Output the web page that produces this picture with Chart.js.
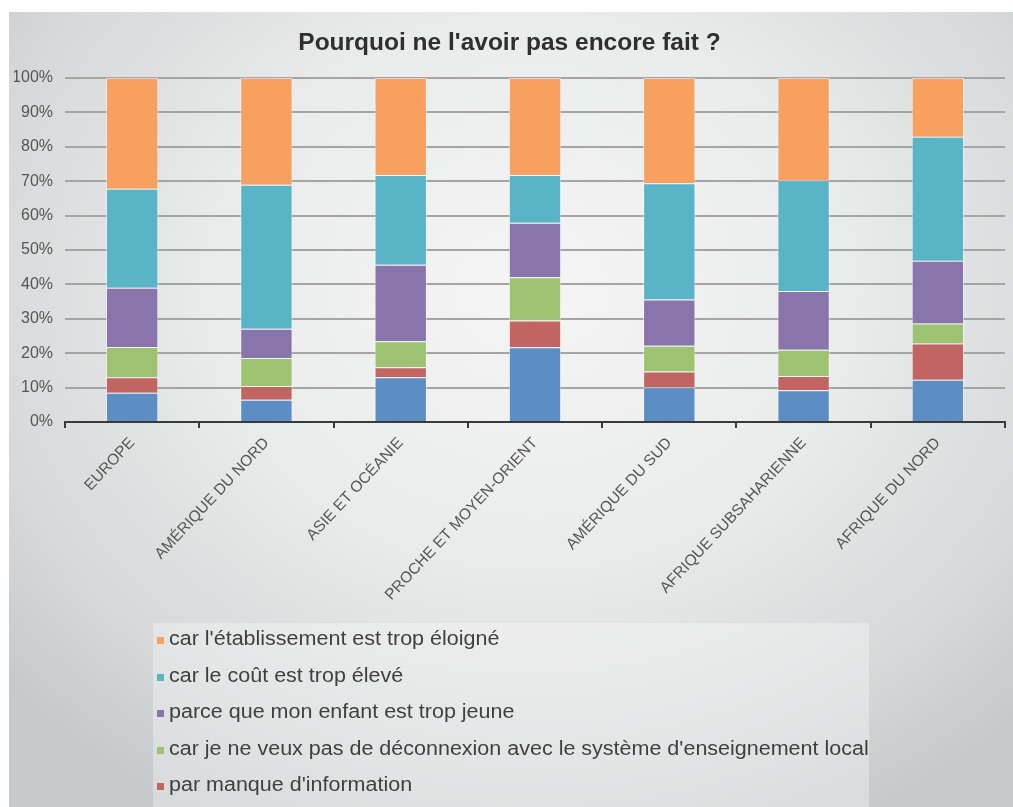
<!DOCTYPE html>
<html lang="fr">
<head>
<meta charset="utf-8">
<title>Pourquoi ne l'avoir pas encore fait ?</title>
<script src="https://cdn.jsdelivr.net/npm/chart.js@4.4.1/dist/chart.umd.min.js"></script>
<style>
  html, body { margin: 0; padding: 0; background: #ffffff; }
  #frame {
    position: absolute; left: 9px; top: 12px; width: 1004px; height: 795px;
    background: radial-gradient(ellipse 70% 75% at 52% 35%, #f5f5f5 0%, #eaebeb 45%, #d6d8d9 80%, #c6c9cb 100%);
  }
  #wrap { position: absolute; left: 0; top: 0; width: 1013px; height: 807px; }
  #legend {
    position: absolute; left: 153px; top: 623px; width: 716px; height: 184px;
    background: rgba(255,255,255,0.32);
    font-family: "Liberation Sans", Arial, sans-serif;
    font-size: 20px; color: #3f3f3f;
  }
  .item { position: absolute; left: 4px; height: 24px; line-height: 24px; white-space: nowrap; }
  .sw { display: inline-block; width: 7px; height: 7px; margin-right: 5px; vertical-align: 1px; }
  .txt { display: inline-block; transform: scaleX(1.075); transform-origin: left center; }
</style>
</head>
<body>
<div id="frame"></div>
<div id="wrap"><canvas id="chart" width="1013" height="807"></canvas></div>
<div id="legend"></div>
<script>
// Regions surveyed
const categories = [
  'EUROPE', 'AMÉRIQUE DU NORD', 'ASIE ET OCÉANIE', 'PROCHE ET MOYEN-ORIENT',
  'AMÉRIQUE DU SUD', 'AFRIQUE SUBSAHARIENNE', 'AFRIQUE DU NORD'
];

// Share of answers per reason (%), stacked from the bottom up
const autreRaison   = [8.5, 6.5, 13.0, 21.7, 10.1, 9.2, 12.3];
const manqueInfo    = [4.5, 4.0, 2.9, 7.8, 4.6, 4.2, 10.5];
const deconnexion   = [8.8, 8.1, 7.6, 12.6, 7.5, 7.6, 5.8];
const enfantJeune   = [17.2, 8.5, 22.2, 15.8, 13.4, 17.1, 18.3];
const coutEleve     = [28.8, 41.9, 26.1, 13.9, 33.8, 32.2, 36.0];
const tropEloigne   = [32.2, 31.0, 28.2, 28.2, 30.6, 29.7, 17.1];

const yTicks = [0, 10, 20, 30, 40, 50, 60, 70, 80, 90, 100];

const series = [
  { label: 'autre', data: autreRaison, color: '#5c8dc3', legend: false },
  { label: "par manque d'information", data: manqueInfo, color: '#c26461', legend: true },
  { label: "car je ne veux pas de déconnexion avec le système d'enseignement local", data: deconnexion, color: '#9dc272', legend: true },
  { label: 'parce que mon enfant est trop jeune', data: enfantJeune, color: '#8975ab', legend: true },
  { label: 'car le coût est trop élevé', data: coutEleve, color: '#5ab4c7', legend: true },
  { label: "car l'établissement est trop éloigné", data: tropEloigne, color: '#f7a060', legend: true }
];

const FONT = '"Liberation Sans", Arial, sans-serif';

const chart = new Chart(document.getElementById('chart'), {
  type: 'bar',
  data: {
    labels: categories,
    datasets: series.map(s => ({
      label: s.label,
      data: s.data,
      backgroundColor: s.color,
      borderColor: 'rgba(255,255,255,0.55)',
      borderWidth: 1,
      barPercentage: 0.39,
      categoryPercentage: 1.0
    }))
  },
  options: {
    responsive: false,
    animation: false,
    layout: { padding: { left: 14, right: 8, top: 0, bottom: 0 } },
    plugins: {
      legend: { display: false },
      tooltip: { enabled: false },
      title: {
        display: true,
        text: "Pourquoi ne l'avoir pas encore fait ?",
        color: '#2f2f2f',
        font: { family: FONT, size: 24.5, weight: 'bold' },
        padding: { top: 29, bottom: 19.6 }
      }
    },
    scales: {
      x: {
        stacked: true,
        offset: true,
        afterFit: s => { s.height = 385; },
        border: { display: true, color: '#3a3a3a', width: 2 },
        grid: { offset: true, drawOnChartArea: false, drawTicks: true, tickLength: 6, color: '#3a3a3a', lineWidth: 2 },
        ticks: {
          minRotation: 47, maxRotation: 47, padding: 6,
          color: '#555555', font: { family: FONT, size: 15.5 }
        }
      },
      y: {
        stacked: true,
        min: 0, max: 100,
        afterFit: s => { s.width = 51; },
        afterBuildTicks: s => { s.ticks = yTicks.map(v => ({ value: v })); },
        border: { display: false },
        grid: { color: '#a4a4a4', lineWidth: 2, drawTicks: false },
        ticks: {
          padding: 12, color: '#555555',
          font: { family: FONT, size: 16 },
          callback: v => v + '%'
        }
      }
    }
  }
});

// Legend, listed from the top segment down
const legendBox = document.getElementById('legend');
chart.data.datasets.slice().reverse().forEach(ds => {
  const src = series.find(s => s.label === ds.label);
  if (!src.legend) return;
  const row = document.createElement('div');
  row.className = 'item';
  row.style.top = (3 + legendBox.children.length * 36.6) + 'px';
  const sw = document.createElement('span');
  sw.className = 'sw';
  sw.style.background = ds.backgroundColor;
  const txt = document.createElement('span');
  txt.className = 'txt';
  txt.textContent = ds.label;
  row.appendChild(sw);
  row.appendChild(txt);
  legendBox.appendChild(row);
});
</script>
</body>
</html>
